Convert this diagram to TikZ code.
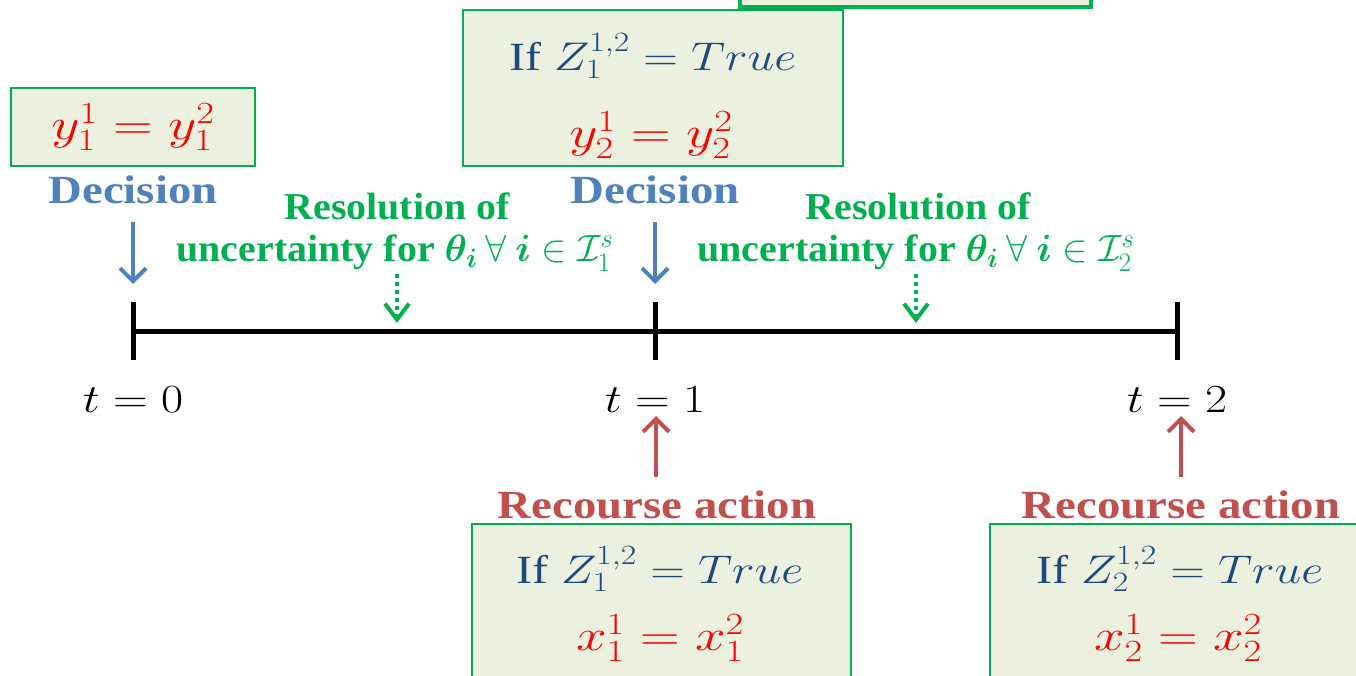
\RequirePackage{fix-cm}
\documentclass[tikz,border=0pt]{standalone}
\usepackage{amsmath,bm,graphicx}
\usepackage{fontspec}
\setmainfont{Liberation Serif}
\newfontfamily\lblfont{Liberation Serif Bold}[FakeStretch=1.17]
\newfontfamily\lblfontb{Liberation Serif Bold}[FakeStretch=1.05]
\usetikzlibrary{arrows.meta}
\definecolor{boxfill}{HTML}{EBF0DF}
\definecolor{boxline}{HTML}{00B050}
\definecolor{gtext}{HTML}{00B050}
\definecolor{btext}{HTML}{4F81BD}
\definecolor{rtext}{HTML}{C0504D}
\definecolor{dblue}{HTML}{1F497D}
\definecolor{mred}{HTML}{FF0000}
\newcommand{\hsc}[2]{\scalebox{#1}[1]{#2}}
\tikzset{
  box/.style={draw=boxline, fill=boxfill, line width=2pt, inner sep=0pt},
  lbl/.style={font=\lblfont\fontsize{40}{48}\selectfont, inner sep=0pt},
  lblb/.style={font=\lblfontb\fontsize{38}{46}\selectfont, inner sep=0pt},
  mth/.style={font=\fontsize{40}{48}\selectfont, inner sep=0pt},
  eqn/.style={font=\fontsize{44}{52}\selectfont, inner sep=0pt, text=mred},
  tl/.style={line width=5pt, line cap=butt},
  barrow/.style={draw=btext, line width=4pt, -{Straight Barb[length=13pt,width=26pt,line width=4pt]}},
  rarrow/.style={draw=rtext, line width=4pt, -{Straight Barb[length=13pt,width=26pt,line width=4pt]}},
  garrow/.style={draw=gtext, line width=4pt, dash pattern=on 4pt off 4pt, -{Straight Barb[length=16pt,width=24pt,line width=4pt]}},
}
\begin{document}
\begin{tikzpicture}[x=1pt,y=-1pt]
\useasboundingbox (0,0) rectangle (1356,676);
\clip (0,0) rectangle (1356,676);
% partial top box
\node[box, line width=4pt, minimum width=351pt, minimum height=80pt] (b0) at (915,-33) {};
% box 1
\node[box, minimum width=244pt, minimum height=78pt] (b1) at (133,127) {};
\node[eqn] (b1m) at (133,127) {\hsc{1.25}{$y_1^1 = y_1^2$}};
% box 2
\node[box, minimum width=380pt, minimum height=156pt] (b2) at (653,88) {};
\node[mth, text=dblue] (b2a) at (653,56) {\hsc{1.2}{If $Z_1^{1,2} = True$}};
\node[eqn] (b2b) at (651,135) {\hsc{1.25}{$y_2^1 = y_2^2$}};
% box 3
\node[box, minimum width=379pt, minimum height=180pt, anchor=north west] (b3) at (471,523) {};
\node[mth, text=dblue] (b3a) at (660,569) {\hsc{1.2}{If $Z_1^{1,2} = True$}};
\node[eqn] (b3b) at (660,638) {\hsc{1.25}{$x_1^1 = x_1^2$}};
% box 4
\node[box, minimum width=400pt, minimum height=180pt, anchor=north west] (b4) at (989,523) {};
\node[mth, text=dblue] (b4a) at (1180,569) {\hsc{1.2}{If $Z_2^{1,2} = True$}};
\node[eqn] (b4b) at (1178,638) {\hsc{1.25}{$x_2^1 = x_2^2$}};
% decision labels
\node[lbl, text=btext] (d1) at (133,190) {Decision};
\node[lbl, text=btext] (d2) at (655,190) {Decision};
% resolution labels
\node[lblb, text=gtext] (r1a) at (397,206) {Resolution of};
\node[lblb, text=gtext] (r1b) at (395,253) {uncertainty for $\bm{\theta_i}\:\forall\:\bm{i}\in\mathcal{I}_1^s$};
\node[lblb, text=gtext] (r2a) at (918,206) {Resolution of};
\node[lblb, text=gtext] (r2b) at (916,253) {uncertainty for $\bm{\theta_i}\:\forall\:\bm{i}\in\mathcal{I}_2^s$};
% recourse labels
\node[lbl, text=rtext] (rc1) at (657,505) {Recourse action};
\node[lbl, text=rtext] (rc2) at (1181,505) {Recourse action};
% time labels
\node[mth] (t0) at (133,400) {\hsc{1.2}{$t = 0$}};
\node[mth] (t1) at (655,400) {\hsc{1.2}{$t = 1$}};
\node[mth] (t2) at (1177,400) {\hsc{1.2}{$t = 2$}};
% timeline
\coordinate (p0) at (133,331);
\coordinate (p1) at (655,331);
\coordinate (p2) at (1177,331);
\draw[tl] (p0) -- (p2);
\draw[tl] (133,302) -- (133,360);
\draw[tl] (655,302) -- (655,360);
\draw[tl] (1177,302) -- (1177,360);
% arrows
\coordinate (a1s) at (133,222); \coordinate (a1e) at (133,284);
\coordinate (a2s) at (655,222); \coordinate (a2e) at (655,284);
\draw[barrow] (a1s) -- (a1e);
\draw[barrow] (a2s) -- (a2e);
\coordinate (g1s) at (397,274); \coordinate (g1e) at (397,323);
\coordinate (g2s) at (916,274); \coordinate (g2e) at (916,323);
\draw[garrow] (g1s) -- (g1e);
\draw[garrow] (g2s) -- (g2e);
\coordinate (u1s) at (656,477); \coordinate (u1e) at (656,416);
\coordinate (u2s) at (1181,477); \coordinate (u2e) at (1181,416);
\draw[rarrow] (u1s) -- (u1e);
\draw[rarrow] (u2s) -- (u2e);
\end{tikzpicture}
\end{document}
